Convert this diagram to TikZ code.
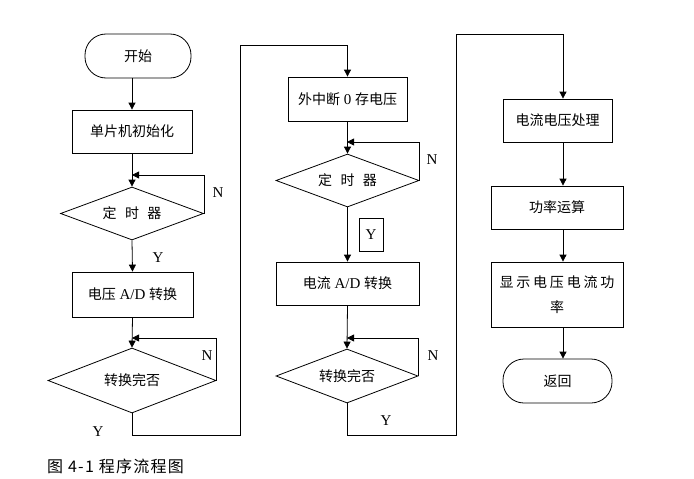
\documentclass[tikz,border=0pt]{standalone}
\usepackage{fontspec}
\setmainfont{Liberation Serif}
\newfontfamily\cjk{Noto Sans CJK SC}
\usepackage{tikz}
\usetikzlibrary{shapes.geometric,arrows.meta,calc}
\definecolor{flowink}{RGB}{0,0,0}
\newcommand\zhtext[1]{{\cjk\fontsize{14}{17}\selectfont #1}}

\tikzset{
  flowbox/.style={draw=flowink,line width=0.8pt,inner sep=0pt,font=\fontsize{15}{18}\selectfont},
  flowdec/.style={flowbox,diamond,aspect=2.7},
  flowterm/.style={flowbox,rounded corners=21pt},
  flowarr/.style={draw=flowink,line width=0.8pt,-{Triangle[width=7pt,length=7pt]}},
  flowline/.style={draw=flowink,line width=0.8pt},
  flowlabel/.style={font=\fontsize{15}{18}\selectfont,text=flowink}
}

\begin{document}
\begin{tikzpicture}[x=1pt,y=-1pt]
  \useasboundingbox (0,0) rectangle (694,479);
  % first column
  \node[flowterm,minimum width=106,minimum height=44] (start) at (138,56) {\zhtext{开始}};
  \node[flowbox,minimum width=120,minimum height=43] (init) at (132,131.5) {\zhtext{单片机初始化}};
  \node[flowdec,minimum width=143,minimum height=53] (timerV) at (132,213.5) {\zhtext{定\hspace{0.6em}时\hspace{0.6em}器}};
  \node[flowbox,minimum width=121,minimum height=45] (adV) at (132.5,294.5) {\zhtext{电压} A/D \zhtext{转换}};
  \node[flowdec,minimum width=168,minimum height=65] (doneV) at (132,380.5) {\zhtext{转换完否}};
  % second column
  \node[flowbox,minimum width=119,minimum height=44] (int0) at (347.5,99) {\zhtext{外中断} 0 \zhtext{存电压}};
  \node[flowdec,minimum width=143,minimum height=53] (timerI) at (347.5,180.5) {\zhtext{定\hspace{0.6em}时\hspace{0.6em}器}};
  \node[flowbox,minimum width=143,minimum height=43] (adI) at (347.5,283.5) {\zhtext{电流} A/D \zhtext{转换}};
  \node[flowdec,minimum width=142,minimum height=54] (doneI) at (347,376) {\zhtext{转换完否}};
  % third column
  \node[flowbox,minimum width=109,minimum height=43] (handle) at (557.5,120.5) {\zhtext{电流电压处理}};
  \node[flowbox,minimum width=132,minimum height=43] (power) at (557,207.5) {\zhtext{功率运算}};
  \node[flowbox,minimum width=132,minimum height=65,align=center,
        font=\cjk\fontsize{14}{25}\selectfont\addfontfeature{LetterSpace=20}] (show) at (557,294.5)
    {显示电压电流功\\率};
  \node[flowterm,minimum width=109,minimum height=44] (ret) at (557.5,381) {\zhtext{返回}};

  % loop and link points
  \coordinate (loopV1) at (132,175);
  \coordinate (loopV2) at (132,338);
  \coordinate (loopI1) at (347,142);
  \coordinate (loopI2) at (347,338);
  \coordinate (linkA1) at (240,435);
  \coordinate (linkA2) at (240,45);
  \coordinate (linkB1) at (456,435);
  \coordinate (linkB2) at (456,34);

  % connectors, first column
  \draw[flowarr] (start.south -| init.north) -- (init.north);
  \draw[flowarr] (init.south) -- (timerV.north);
  \draw[flowarr] (timerV.east) |- (loopV1);
  \draw[flowarr] (timerV.south) -- (adV.north);
  \draw[flowarr] (adV.south) -- (doneV.north);
  \draw[flowarr] (doneV.east) |- (loopV2);
  \draw[flowarr] (doneV.south) |- (linkA1) -- (linkA2) -| (int0.north);
  % connectors, second column
  \draw[flowarr] (int0.south) -- (timerI.north);
  \draw[flowarr] (timerI.east) |- (loopI1);
  \draw[flowarr] (timerI.south) -- (adI.north);
  \draw[flowarr] (adI.south) -- (doneI.north);
  \draw[flowarr] (doneI.east) |- (loopI2);
  \draw[flowarr] (doneI.south) |- (linkB1) -- (linkB2) -| ([xshift=5.5pt]handle.north);
  % connectors, third column
  \draw[flowarr] ([xshift=5.5pt]handle.south) -- ([xshift=5.5pt]handle.south |- power.north);
  \draw[flowarr] ([xshift=6pt]power.south) -- ([xshift=6pt]power.south |- show.north);
  \draw[flowarr] ([xshift=6pt]show.south) -- ([xshift=6pt]show.south |- ret.north);

  % branch labels
  \node[flowlabel] (nV1) at (218,193) {N};
  \node[flowlabel] (yV1) at (158,258) {Y};
  \node[flowlabel] (nV2) at (207,356) {N};
  \node[flowlabel] (yV2) at (98,432) {Y};
  \node[flowlabel] (nI1) at (432,160) {N};
  \node[flowlabel,draw=flowink,line width=0.6pt,minimum width=24,minimum height=33,inner sep=0pt] (yI1) at (371,234.5) {Y};
  \node[flowlabel] (nI2) at (433,356) {N};
  \node[flowlabel] (yI2) at (386,421) {Y};

  % caption
  \node[anchor=west,inner sep=0pt] (caption) at (47,466)
    {{\cjk\fontsize{16}{19}\selectfont\addfontfeature{LetterSpace=8}图\ 4-1\ 程序流程图}};
\end{tikzpicture}
\end{document}
